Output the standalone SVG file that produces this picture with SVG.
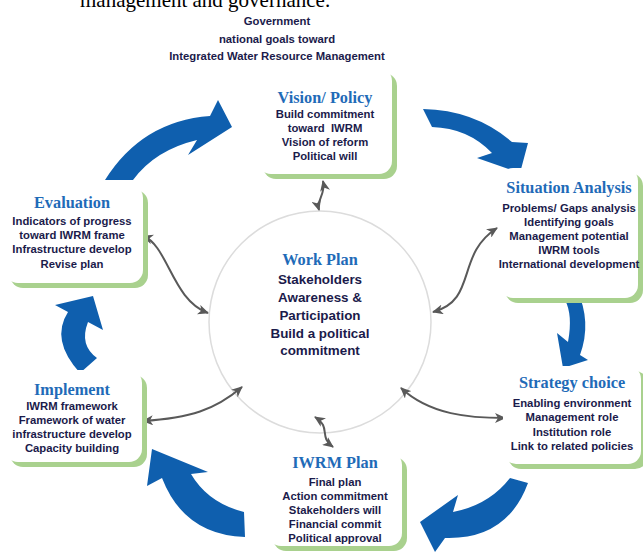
<svg xmlns="http://www.w3.org/2000/svg" width="643" height="553" viewBox="0 0 643 553">
  <style>
    .shadow { fill: #a9d18e; }
    .card { fill: #ffffff; }
    .title { font-family: "Liberation Serif", "Times New Roman", serif; font-weight: bold; font-size: 16.3px; fill: #1f6bb8; text-anchor: middle; }
    .body { font-family: "Liberation Sans", Arial, sans-serif; font-weight: bold; font-size: 11.3px; fill: #1b1b4b; text-anchor: middle; }
    .core { font-family: "Liberation Sans", Arial, sans-serif; font-weight: bold; font-size: 13.4px; fill: #1b1b4b; text-anchor: middle; }
    .cycle { fill: #0f5fae; }
    .link { fill: none; stroke: #595959; stroke-width: 2; marker-start: url(#tip); marker-end: url(#tip); }
  </style>
  <defs>
    <marker id="tip" viewBox="0 0 11 10" refX="10" refY="5" markerWidth="11" markerHeight="10" markerUnits="userSpaceOnUse" orient="auto-start-reverse">
      <path d="M0,0 L11,5 L0,10 L3,5 Z" fill="#595959"/>
    </marker>
  </defs>

  <rect width="643" height="553" fill="#ffffff"/>

  <!-- caption line above the figure -->
  <text x="80" y="7" font-family="Liberation Serif, Times New Roman, serif" font-size="21" fill="#000000">management and governance.</text>

  <!-- heading -->
  <g id="goal">
    <text class="body" x="277" y="25" font-size="11">Government</text>
    <text class="body" x="277" y="43" font-size="11">national goals toward</text>
    <text class="body" x="277" y="60" font-size="11">Integrated Water Resource Management</text>
  </g>

  <!-- cycle arrows, clockwise -->
  <g id="cycle">
    <path class="cycle" d="M105,180 Q142,121 210,116 L218,100 L232,127 L188,155 L197,140 Q155,150 133,180 Z"/>
    <path class="cycle" d="M423,109 Q475,110 512,142 L528,143 L520,173 L477,158 L492,153 Q468,128 432,127 Z"/>
    <path class="cycle" d="M577,290 Q592,322 580,355 L588,360 L563,368 L557,333 L568,342 Q573,315 565,300 Z"/>
    <path class="cycle" d="M510,478 Q489,505 453,512 L458,495 L420,522 L435,552 L445,538 Q507,540 528,483 Z"/>
    <path class="cycle" d="M244,512 Q208,503 191,474 L208,472 L152,449 L147,486 L162,478 Q184,535 245,537 Z"/>
    <path class="cycle" d="M97,358 Q79,345 88,322 L103,330 L93,296 L55,305 L68,312 Q50,340 80,373 Z"/>
  </g>

  <!-- central work plan -->
  <g id="work-plan">
    <circle cx="320" cy="322" r="111" fill="#ffffff" stroke="#dcdcdc" stroke-width="1.5"/>
    <text class="title" x="320" y="265" font-size="17.5">Work Plan</text>
    <text class="core" x="320" y="284">Stakeholders</text>
    <text class="core" x="320" y="302">Awareness &amp;</text>
    <text class="core" x="320" y="320">Participation</text>
    <text class="core" x="320" y="338">Build a political</text>
    <text class="core" x="320" y="355">commitment</text>
  </g>

  <!-- links between the work plan and each stage -->
  <g id="links">
    <path class="link" d="M323,181 C326,195 316,200 319,210"/>
    <path class="link" d="M497,228 C455,255 478,300 433,312"/>
    <path class="link" d="M401,388 C430,415 470,418 505,418"/>
    <path class="link" d="M315,417 C332,428 318,436 333,447"/>
    <path class="link" d="M143,421 C190,418 215,410 242,387"/>
    <path class="link" d="M143,236 C168,245 172,300 208,313"/>
  </g>

  <g id="vision-policy">
    <rect class="shadow" x="263" y="73" width="134" height="106" rx="13"/>
    <rect class="card" x="258" y="68" width="134" height="106" rx="13"/>
    <text class="title" x="325" y="103">Vision/ Policy</text>
    <text class="body" x="325" y="118">Build commitment</text>
    <text class="body" x="325" y="132" xml:space="preserve">toward  IWRM</text>
    <text class="body" x="325" y="146">Vision of reform</text>
    <text class="body" x="325" y="160">Political will</text>
  </g>

  <g id="situation-analysis">
    <rect class="shadow" x="505" y="173" width="138" height="130" rx="13"/>
    <rect class="card" x="500" y="168" width="138" height="130" rx="13"/>
    <text class="title" x="569" y="193">Situation Analysis</text>
    <text class="body" x="569" y="212">Problems/ Gaps analysis</text>
    <text class="body" x="569" y="226">Identifying goals</text>
    <text class="body" x="569" y="240">Management potential</text>
    <text class="body" x="569" y="254">IWRM tools</text>
    <text class="body" x="569" y="268" font-size="10.3">International development</text>
  </g>

  <g id="strategy-choice">
    <rect class="shadow" x="508" y="371" width="140" height="98" rx="13"/>
    <rect class="card" x="503" y="366" width="138" height="98" rx="13"/>
    <text class="title" x="572" y="388">Strategy choice</text>
    <text class="body" x="572" y="407">Enabling environment</text>
    <text class="body" x="572" y="421">Management role</text>
    <text class="body" x="572" y="436">Institution role</text>
    <text class="body" x="572" y="450">Link to related policies</text>
  </g>

  <g id="iwrm-plan">
    <rect class="shadow" x="273" y="457" width="134" height="94" rx="13"/>
    <rect class="card" x="268" y="452" width="134" height="94" rx="13"/>
    <text class="title" x="335" y="468">IWRM Plan</text>
    <text class="body" x="335" y="486">Final plan</text>
    <text class="body" x="335" y="500">Action commitment</text>
    <text class="body" x="335" y="514">Stakeholders will</text>
    <text class="body" x="335" y="528">Financial commit</text>
    <text class="body" x="335" y="542">Political approval</text>
  </g>

  <g id="implement">
    <rect class="shadow" x="10" y="375" width="137" height="92" rx="13"/>
    <rect class="card" x="5" y="370" width="137" height="92" rx="13"/>
    <text class="title" x="72" y="395">Implement</text>
    <text class="body" x="72" y="410">IWRM framework</text>
    <text class="body" x="72" y="424">Framework of water</text>
    <text class="body" x="72" y="438">infrastructure develop</text>
    <text class="body" x="72" y="452">Capacity building</text>
  </g>

  <g id="evaluation">
    <rect class="shadow" x="10" y="190" width="138" height="98" rx="13"/>
    <rect class="card" x="5" y="185" width="138" height="98" rx="13"/>
    <text class="title" x="72" y="208">Evaluation</text>
    <text class="body" x="72" y="225">Indicators of progress</text>
    <text class="body" x="72" y="239">toward IWRM frame</text>
    <text class="body" x="72" y="253">Infrastructure develop</text>
    <text class="body" x="72" y="268">Revise plan</text>
  </g>
</svg>
